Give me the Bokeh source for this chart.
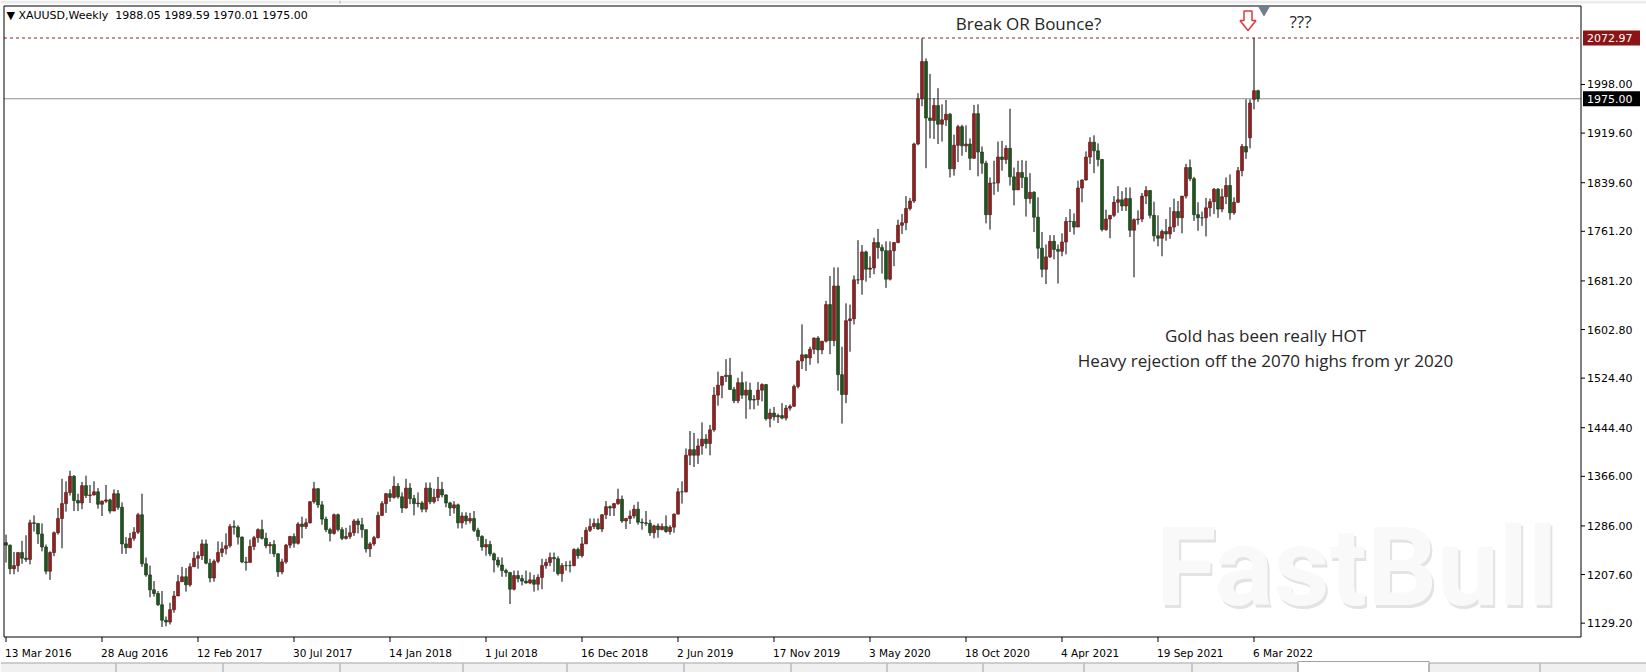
import numpy as np
import pandas as pd
from bokeh.plotting import figure
from bokeh.models import Range1d
from bokeh.core.properties import value
from bokeh.embed import file_html
from bokeh.resources import INLINE

symbol = "XAUUSD"
timeframe = "Weekly"
first_week = "2016-03-13"
first_open = 1259.0

# weekly bars, one value per week (weeks start on Sunday)
close_2016 = [1255, 1217, 1222, 1243, 1234, 1232, 1291, 1290, 1273, 1252, 1213, 1243, 1275, 1298, 1322, 1340, 1366, 1327, 1323, 1351,
              1335, 1336, 1341, 1321, 1326, 1328, 1310, 1338, 1316, 1257, 1251, 1266, 1276, 1304, 1225, 1207, 1183, 1177, 1159, 1134,
              1131, 1151]
high_2016 = [1272, 1256, 1244, 1243, 1262, 1271, 1296, 1303, 1290, 1290, 1256, 1245, 1277, 1315, 1362, 1358, 1375, 1368, 1338, 1357,
             1367, 1352, 1358, 1347, 1327, 1352, 1330, 1345, 1344, 1324, 1268, 1275, 1284, 1307, 1338, 1235, 1222, 1197, 1181, 1181,
             1140, 1162]
low_2016 = [1227, 1208, 1208, 1212, 1225, 1228, 1224, 1277, 1257, 1245, 1208, 1199, 1237, 1272, 1250, 1309, 1335, 1310, 1310, 1313,
            1331, 1323, 1335, 1314, 1302, 1323, 1306, 1310, 1312, 1241, 1241, 1250, 1262, 1273, 1220, 1204, 1171, 1172, 1157, 1123,
            1124, 1127]

close_2017 = [1173, 1196, 1204, 1191, 1220, 1234, 1238, 1257, 1226, 1202, 1229, 1243, 1249, 1254, 1285, 1284, 1268, 1228, 1227, 1253,
              1267, 1280, 1266, 1254, 1256, 1241, 1212, 1228, 1255, 1269, 1258, 1289, 1285, 1291, 1325, 1346, 1320, 1297, 1280, 1274,
              1304, 1280, 1266, 1269, 1275, 1294, 1288, 1280, 1249, 1257, 1267, 1303, 1322]
high_2017 = [1181, 1207, 1220, 1218, 1226, 1244, 1245, 1264, 1264, 1233, 1232, 1261, 1260, 1274, 1289, 1295, 1287, 1269, 1236, 1264,
             1270, 1282, 1296, 1275, 1260, 1263, 1242, 1233, 1257, 1270, 1274, 1292, 1301, 1298, 1326, 1357, 1347, 1326, 1301, 1283,
             1306, 1306, 1284, 1283, 1287, 1297, 1298, 1299, 1280, 1260, 1270, 1309, 1326]
low_2017 = [1146, 1173, 1196, 1180, 1188, 1220, 1217, 1231, 1224, 1195, 1196, 1226, 1236, 1240, 1251, 1272, 1256, 1226, 1214, 1227,
            1247, 1259, 1264, 1250, 1241, 1236, 1204, 1208, 1225, 1250, 1251, 1256, 1266, 1281, 1290, 1322, 1315, 1288, 1276, 1261,
            1272, 1277, 1263, 1264, 1265, 1270, 1274, 1267, 1243, 1236, 1254, 1266, 1302]

close_2018 = [1338, 1332, 1350, 1333, 1315, 1347, 1330, 1322, 1323, 1313, 1347, 1325, 1332, 1345, 1336, 1323, 1315, 1320, 1291, 1302,
              1294, 1298, 1279, 1269, 1252, 1256, 1241, 1231, 1223, 1214, 1211, 1184, 1206, 1201, 1197, 1194, 1199, 1192, 1203, 1222,
              1227, 1235, 1233, 1209, 1222, 1222, 1222, 1248, 1238, 1257, 1279, 1285]
high_2018 = [1339, 1345, 1366, 1355, 1340, 1362, 1355, 1336, 1340, 1326, 1356, 1356, 1346, 1365, 1357, 1337, 1325, 1326, 1322, 1308,
             1308, 1307, 1310, 1283, 1271, 1265, 1262, 1243, 1236, 1235, 1217, 1211, 1214, 1214, 1207, 1214, 1211, 1207, 1208, 1233,
             1233, 1243, 1243, 1237, 1226, 1229, 1230, 1250, 1251, 1268, 1284, 1298]
low_2018 = [1307, 1325, 1330, 1330, 1307, 1314, 1321, 1303, 1316, 1308, 1308, 1321, 1322, 1326, 1332, 1316, 1302, 1306, 1282, 1282,
            1288, 1290, 1276, 1262, 1246, 1238, 1237, 1211, 1219, 1204, 1204, 1160, 1182, 1195, 1190, 1193, 1192, 1180, 1182, 1184,
            1217, 1221, 1212, 1206, 1196, 1214, 1211, 1221, 1233, 1235, 1257, 1276]

close_2019 = [1290, 1281, 1304, 1317, 1315, 1322, 1329, 1294, 1298, 1302, 1313, 1292, 1291, 1290, 1275, 1286, 1280, 1285, 1277, 1284,
              1305, 1341, 1341, 1400, 1409, 1400, 1415, 1426, 1419, 1441, 1497, 1513, 1527, 1529, 1506, 1488, 1517, 1497, 1505, 1489,
              1490, 1505, 1514, 1459, 1468, 1462, 1464, 1460, 1476, 1479, 1511, 1552]
high_2019 = [1298, 1298, 1305, 1326, 1319, 1323, 1346, 1335, 1299, 1311, 1320, 1325, 1298, 1310, 1296, 1288, 1290, 1290, 1303, 1287,
             1306, 1347, 1358, 1411, 1439, 1436, 1427, 1453, 1434, 1449, 1510, 1535, 1528, 1555, 1557, 1510, 1525, 1535, 1519, 1517,
             1497, 1518, 1516, 1515, 1475, 1478, 1467, 1484, 1481, 1482, 1514, 1553]
low_2019 = [1281, 1280, 1276, 1297, 1302, 1302, 1320, 1291, 1281, 1289, 1298, 1288, 1280, 1286, 1270, 1266, 1267, 1279, 1275, 1272,
            1275, 1305, 1322, 1340, 1384, 1381, 1386, 1401, 1411, 1400, 1438, 1480, 1492, 1518, 1506, 1484, 1484, 1491, 1459, 1474,
            1474, 1480, 1487, 1456, 1445, 1456, 1452, 1458, 1456, 1472, 1478, 1508]

close_2020 = [1562, 1557, 1571, 1589, 1570, 1584, 1643, 1585, 1673, 1530, 1498, 1617, 1620, 1683, 1683, 1728, 1700, 1702, 1743, 1735,
              1730, 1684, 1730, 1743, 1771, 1775, 1798, 1810, 1902, 1975, 2035, 1944, 1940, 1964, 1934, 1941, 1950, 1862, 1900, 1930,
              1899, 1902, 1879, 1951, 1889, 1871, 1788, 1839, 1839, 1881, 1877, 1895]
high_2020 = [1611, 1563, 1575, 1590, 1592, 1584, 1649, 1689, 1703, 1703, 1575, 1645, 1643, 1690, 1747, 1739, 1730, 1721, 1751, 1765,
             1740, 1745, 1745, 1744, 1780, 1789, 1818, 1815, 1904, 1984, 2072.5, 2040, 2015, 1976, 1992, 1966, 1973, 1952, 1917, 1933,
             1933, 1932, 1911, 1965, 1966, 1898, 1875, 1848, 1875, 1906, 1907, 1900]
low_2020 = [1539, 1536, 1546, 1563, 1548, 1563, 1582, 1563, 1576, 1504, 1451, 1484, 1567, 1611, 1676, 1659, 1680, 1686, 1692, 1717,
            1693, 1670, 1682, 1705, 1742, 1757, 1763, 1795, 1807, 1900, 1963, 1863, 1911, 1910, 1902, 1906, 1931, 1848, 1851, 1873,
            1883, 1889, 1860, 1878, 1850, 1854, 1774, 1764, 1820, 1825, 1859, 1870]

close_2021 = [1849, 1828, 1856, 1848, 1814, 1824, 1784, 1734, 1700, 1720, 1745, 1732, 1729, 1744, 1777, 1777, 1768, 1831, 1844, 1881,
              1905, 1891, 1877, 1764, 1781, 1787, 1808, 1812, 1802, 1814, 1763, 1780, 1781, 1818, 1827, 1787, 1754, 1750, 1761, 1757,
              1768, 1793, 1783, 1818, 1864, 1846, 1788, 1783, 1783, 1799, 1809, 1829]
high_2021 = [1959, 1864, 1875, 1876, 1875, 1855, 1826, 1816, 1760, 1740, 1755, 1755, 1740, 1758, 1784, 1797, 1790, 1843, 1845, 1890,
             1913, 1916, 1903, 1878, 1796, 1787, 1818, 1834, 1826, 1832, 1832, 1782, 1795, 1823, 1834, 1827, 1809, 1787, 1764, 1781,
             1800, 1814, 1810, 1818, 1870, 1877, 1849, 1808, 1793, 1815, 1814, 1831]
low_2021 = [1835, 1803, 1828, 1831, 1785, 1806, 1760, 1717, 1687, 1676, 1718, 1716, 1677, 1721, 1724, 1760, 1756, 1768, 1808, 1843,
            1870, 1855, 1866, 1761, 1762, 1750, 1784, 1791, 1794, 1794, 1752, 1687, 1772, 1776, 1805, 1782, 1745, 1737, 1721, 1746,
            1749, 1760, 1770, 1758, 1814, 1842, 1778, 1762, 1770, 1753, 1785, 1789]

close_2022 = [1797, 1817, 1835, 1791, 1808, 1859, 1898, 1889, 1968, 1988.05, 1975.00]
high_2022 = [1831, 1830, 1848, 1853, 1816, 1865, 1902, 1974, 1974, 2072.97, 1989.59]
low_2022 = [1783, 1792, 1805, 1780, 1788, 1807, 1850, 1878, 1895, 1958, 1970.01]

# weeks whose open gapped away from the prior close
gap_opens = {"2022-02-27": 1912.0, "2022-03-06": 1974.0}

price_ticks = [1129.20, 1207.60, 1286.00, 1366.00, 1444.40, 1524.40, 1602.80, 1681.20, 1761.20, 1839.60, 1919.60, 1998.00]
date_ticks = ["13 Mar 2016", "28 Aug 2016", "12 Feb 2017", "30 Jul 2017", "14 Jan 2018", "1 Jul 2018", "16 Dec 2018",
              "2 Jun 2019", "17 Nov 2019", "3 May 2020", "18 Oct 2020", "4 Apr 2021", "19 Sep 2021", "6 Mar 2022"]

headline = "Break OR Bounce?"
question = "???"
note_lines = ["Gold has been really HOT", "Heavy rejection off the 2070 highs from yr 2020"]
watermark = "FastBull"

# ---- assemble the series ----
closes = np.array(close_2016 + close_2017 + close_2018 + close_2019 + close_2020 + close_2021 + close_2022, dtype=float)
highs = np.array(high_2016 + high_2017 + high_2018 + high_2019 + high_2020 + high_2021 + high_2022, dtype=float)
lows = np.array(low_2016 + low_2017 + low_2018 + low_2019 + low_2020 + low_2021 + low_2022, dtype=float)
n = len(closes)
weeks = pd.date_range(first_week, periods=n, freq="7D")
opens = np.empty(n)
opens[0] = first_open
opens[1:] = closes[:-1]
for day, o in gap_opens.items():
    opens[weeks.get_loc(pd.Timestamp(day))] = o

idx = np.arange(n)
bull = closes > opens
body_top = np.maximum(opens, closes)
body_bot = np.minimum(opens, closes)

# ---- terminal-style layout (pixel geometry of the chart window) ----
W, H = 1646, 672
FL, FR, FT, FB = 3.5, 1580.5, 5.5, 636.5      # chart frame
BAR0_PX = 5.5                                  # centre of the first bar
PX_PER_BAR = 4.0
TOP_PRICE = 2124.6                             # price at the top edge of the frame
PX_PER_UNIT = 0.62


def xd(px):
    return (px - BAR0_PX) / PX_PER_BAR


def yd(py):
    return TOP_PRICE - (py - FT) / PX_PER_UNIT


p = figure(width=W, height=H, x_range=Range1d(xd(0), xd(W)), y_range=Range1d(yd(H), yd(0)),
           output_backend="svg", toolbar_location=None, title=None,
           x_axis_location=None, y_axis_location=None, min_border=0)
p.grid.visible = False
p.outline_line_color = None
p.background_fill_color = "white"
p.border_fill_color = "white"

AXIS_FONT = value("DejaVu Sans")
NOTE_FONT = value("Open Sans")

# window chrome: thin bar on top, tab strip at the bottom
p.quad(left=[xd(0)], right=[xd(W)], top=[yd(0)], bottom=[yd(3)], fill_color="#ececec", line_color=None)
p.segment(x0=[xd(339.5)], y0=[yd(0)], x1=[xd(339.5)], y1=[yd(3)], line_color="#a8a8a8", line_width=1)
tab_edges = [115, 222, 339, 462, 566, 683, 790, 886, 982, 1083, 1191, 1297, 1428, 1539]
p.quad(left=[xd(0)], right=[xd(W)], top=[yd(663)], bottom=[yd(H)], fill_color="#f0f0f0", line_color=None)
p.quad(left=[xd(1297.5)], right=[xd(1428.5)], top=[yd(661)], bottom=[yd(H)], fill_color="white", line_color="#a0a0a0")
p.segment(x0=[xd(0)], y0=[yd(662.5)], x1=[xd(1297.5)], y1=[yd(662.5)], line_color="#a0a0a0", line_width=1)
p.segment(x0=[xd(1428.5)], y0=[yd(662.5)], x1=[xd(W)], y1=[yd(662.5)], line_color="#a0a0a0", line_width=1)
te = [xd(t + 0.5) for t in tab_edges]
p.segment(x0=te, y0=[yd(663)] * len(te), x1=te, y1=[yd(H)] * len(te), line_color="#a0a0a0", line_width=1)

# watermark (soft shadow + pale face)
wx, wy = xd(1356), yd(567)
p.text(x=[wx], y=[wy], text=[watermark], x_offset=2, y_offset=3, text_align="center", text_baseline="middle",
       text_font=value("Roboto"), text_font_style="bold", text_font_size="110px", text_color="#e3e3e3")
p.text(x=[wx], y=[wy], text=[watermark], text_align="center", text_baseline="middle",
       text_font=value("Roboto"), text_font_style="bold", text_font_size="110px", text_color="#f9f9f9")

# reference lines: session high (dashed) and last bid
top_high = float(highs.max())
last_close = float(closes[-1])
p.segment(x0=[xd(FL)], y0=[top_high], x1=[xd(FR)], y1=[top_high], line_color="#9a1f1f", line_width=1, line_dash="3 3")
p.segment(x0=[xd(FL)], y0=[last_close], x1=[xd(FR)], y1=[last_close], line_color="#8a9198", line_width=1)

# candles
BULL, BEAR = "#8e2222", "#21531f"
colors = np.where(bull, BULL, BEAR)
edges = np.where(bull, "#5e1010", "#123512")
p.segment(x0=idx, y0=highs, x1=idx, y1=lows, line_color="black", line_width=1)
p.vbar(x=idx, width=0.75, top=body_top, bottom=body_bot, fill_color=colors, line_color=edges, line_width=0.6)

# chart frame
p.quad(left=[xd(FL)], right=[xd(FR)], top=[yd(FT)], bottom=[yd(FB)], fill_color=None, line_color="black", line_width=1)

# price scale
p.segment(x0=[xd(FR)] * len(price_ticks), y0=price_ticks, x1=[xd(FR + 4)] * len(price_ticks), y1=price_ticks,
          line_color="black", line_width=1)
p.text(x=[xd(FR + 6)] * len(price_ticks), y=price_ticks, text=[f"{v:.2f}" for v in price_ticks],
       text_align="left", text_baseline="middle", text_font=AXIS_FONT, text_font_size="11px", text_color="black")

# price tags for the high line and the last bid
tag_levels = [top_high, last_close]
tag_colors = ["#8b1414", "#000000"]
half = 7.5 / PX_PER_UNIT
p.quad(left=[xd(FR + 2)] * 2, right=[xd(FR + 59)] * 2, top=[v + half for v in tag_levels],
       bottom=[v - half for v in tag_levels], fill_color=tag_colors, line_color=None)
p.text(x=[xd(FR + 6)] * 2, y=tag_levels, text=[f"{v:.2f}" for v in tag_levels], text_align="left",
       text_baseline="middle", text_font=AXIS_FONT, text_font_size="11px", text_color="white")

# time scale: ticks with labels starting at each tick
tick_idx = [int(weeks.get_loc(pd.Timestamp(t))) for t in date_ticks]
p.segment(x0=tick_idx, y0=[yd(FB)] * len(tick_idx), x1=tick_idx, y1=[yd(FB + 5)] * len(tick_idx),
          line_color="black", line_width=1)
p.text(x=[t - 0.25 for t in tick_idx], y=[yd(FB + 16)] * len(tick_idx), text=date_ticks, text_align="left",
       text_baseline="middle", text_font=AXIS_FONT, text_font_size="10.5px", text_color="black")

# header with the last bar's OHLC
header = f"\u25bc {symbol},{timeframe}\u00a0 {opens[-1]:.2f} {highs[-1]:.2f} {lows[-1]:.2f} {closes[-1]:.2f}"
p.text(x=[xd(6)], y=[yd(15)], text=[header], text_align="left", text_baseline="middle",
       text_font=AXIS_FONT, text_font_size="11px", text_color="black")

# chart shift marker
p.scatter(x=[n - 1 + 1.5], y=[yd(9)], marker="inverted_triangle", size=11, fill_color="#6f7d8c", line_color="#6f7d8c")

# hollow down arrow above the rejection bar
spike = int(np.argmax(highs))
ax = spike - 1.5
ay = 10.5
arrow_px = [(-4, 0), (4, 0), (4, 9.5), (8, 9.5), (0, 19.5), (-8, 9.5), (-4, 9.5)]
p.patch(x=[ax + dx / PX_PER_BAR for dx, _ in arrow_px], y=[yd(ay + dy) for _, dy in arrow_px],
        fill_color="white", line_color="#e0393d", line_width=1.5)

# notes
p.text(x=[xd(1028)], y=[yd(23)], text=[headline], text_align="center", text_baseline="middle",
       text_font=NOTE_FONT, text_font_size="17px", text_color="#262626")
p.text(x=[xd(1300)], y=[yd(21)], text=[question], text_align="center", text_baseline="middle",
       text_font=NOTE_FONT, text_font_size="17px", text_color="#262626")
p.text(x=[xd(1265)] * len(note_lines), y=[yd(335 + 25 * k) for k in range(len(note_lines))], text=note_lines,
       text_align="center", text_baseline="middle", text_font=NOTE_FONT, text_font_size="17px", text_color="#262626")

open("out.html", "w").write(file_html(p, INLINE))
